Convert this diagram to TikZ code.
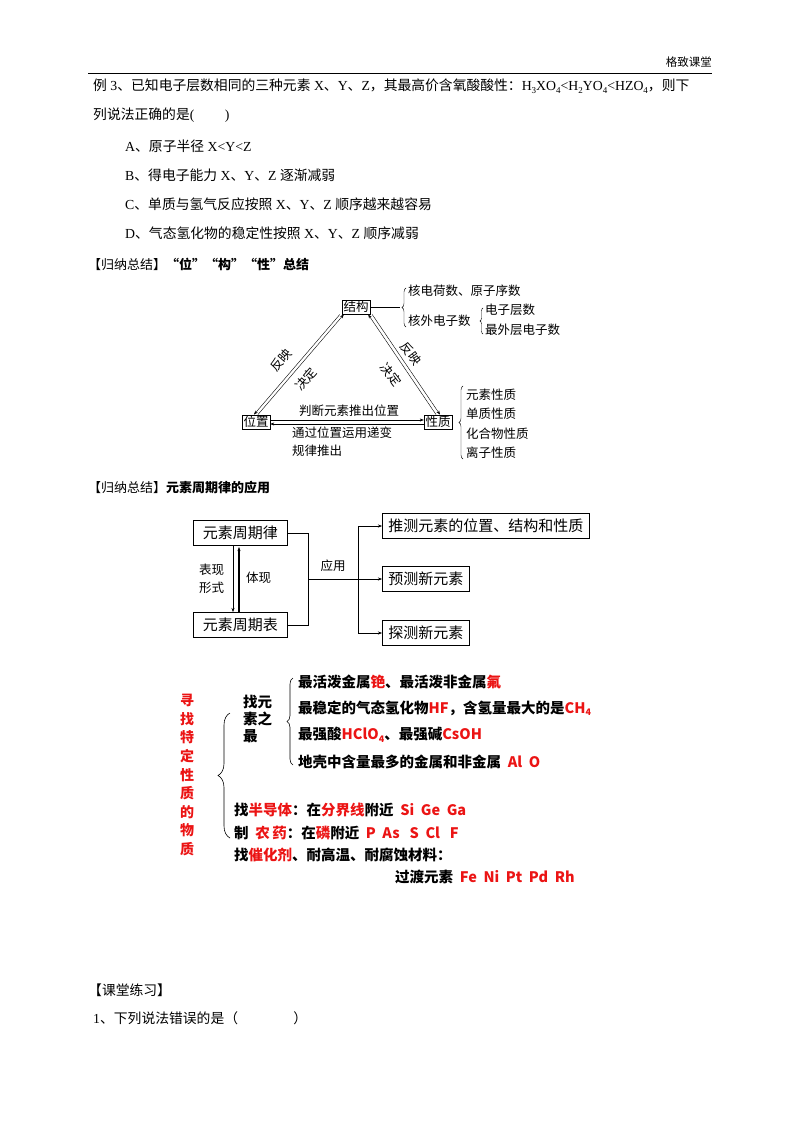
\documentclass[tikz,border=0pt]{standalone}
\usepackage{fontspec}
\setmainfont{Liberation Serif}
\newfontfamily\cjk{Noto Sans CJK SC}
\usetikzlibrary{decorations.pathreplacing,arrows.meta}
\newcommand\lat[1]{{\rmfamily #1}}
\newcommand\sbs[1]{\raisebox{-2.5pt}{\fontsize{9}{9}\selectfont #1}}
\begin{document}
\begin{tikzpicture}[x=1pt,y=-1pt,
  every node/.style={font=\cjk\fontsize{13.8}{16}\selectfont,inner sep=0pt},
  txt/.style={anchor=west},
  sm/.style={font=\cjk\fontsize{12.5}{15}\selectfont},
  bx/.style={draw,inner sep=1.5pt,font=\cjk\fontsize{12.5}{15}\selectfont},
  pbx/.style={draw,line width=0.8pt,inner xsep=6pt,inner ysep=3pt,font=\cjk\fontsize{15}{17}\selectfont,anchor=west},
  bf/.style={anchor=west,font=\cjk\bfseries\fontsize{14.5}{17}\selectfont},
  ar/.style={-{Stealth[length=4pt,width=3pt]}}]
\useasboundingbox (0,0) rectangle (800,1132);
\definecolor{rd}{RGB}{235,20,20}
% header
\node[anchor=east,font=\cjk\fontsize{11.5}{13}\selectfont] (hd) at (712,62) {格致课堂};
\coordinate (hl) at (88,73); \coordinate (hr) at (712,73);
\draw[line width=0.5pt] (hl) -- (hr);
\node[txt] (l1) at (93,86) {例\lat{ 3}、已知电子层数相同的三种元素\lat{ X}、\lat{Y}、\lat{Z}，其最高价含氧酸酸性：\lat{H\sbs{3}XO\sbs{4}<H\sbs{2}YO\sbs{4}<HZO\sbs{4}}，则下};
\node[txt] (l2) at (93,115) {列说法正确的是\lat{(\hspace{2.2em})}};
\node[txt] (oA) at (125,146) {\lat{A}、原子半径\lat{ X<Y<Z}};
\node[txt] (oB) at (125,175) {\lat{B}、得电子能力\lat{ X}、\lat{Y}、\lat{Z }逐渐减弱};
\node[txt] (oC) at (125,204) {\lat{C}、单质与氢气反应按照\lat{ X}、\lat{Y}、\lat{Z }顺序越来越容易};
\node[txt] (oD) at (125,233) {\lat{D}、气态氢化物的稳定性按照\lat{ X}、\lat{Y}、\lat{Z }顺序减弱};
\node[txt,font=\cjk\fontsize{13}{15}\selectfont] (s1) at (88,264) {【归纳总结】{\bfseries “位”“构”“性”总结}};
% triangle
\node[bx] (jg) at (356,307) {结构};
\node[bx] (wz) at (256,422) {位置};
\node[bx] (xz) at (438,422) {性质};
\draw[ar] ([xshift=-2pt]jg.south west) -- ([xshift=-2pt]wz.north);
\draw[ar] ([xshift=2pt]wz.north) -- ([xshift=2pt]jg.south west);
\draw[ar] ([xshift=2pt]jg.south east) -- ([xshift=2pt]xz.north);
\draw[ar] ([xshift=-2pt]xz.north) -- ([xshift=-2pt]jg.south east);
\draw[ar] ([yshift=-2pt]xz.west) -- ([yshift=-2pt]wz.east);
\draw[ar] ([yshift=2pt]wz.east) -- ([yshift=2pt]xz.west);
\node[sm,rotate=49] (fy1) at (281,360) {反映};
\node[sm,rotate=49] (jd1) at (306,379) {决定};
\node[sm,rotate=-53] (fy2) at (411,354) {反映};
\node[sm,rotate=-53] (jd2) at (391,375) {决定};
\node[sm] (pd) at (349,411) {判断元素推出位置};
\node[sm,anchor=west] (tg) at (292,433) {通过位置运用递变};
\node[sm,anchor=west] (gl) at (292,451) {规律推出};
\coordinate (b1) at (400,307);
\draw (jg.east) -- (b1);
\draw[decorate,decoration={brace,amplitude=4pt}] (406,327) -- (406,288);
\node[sm,anchor=west] (t1) at (408,291) {核电荷数、原子序数};
\node[sm,anchor=west] (t2) at (408,321) {核外电子数};
\draw[decorate,decoration={brace,amplitude=3pt}] (483,334) -- (483,308);
\node[sm,anchor=west] (t3) at (485,310) {电子层数};
\node[sm,anchor=west] (t4) at (485,330) {最外层电子数};
\draw[decorate,decoration={brace,amplitude=4pt}] (463,459) -- (463,386);
\node[sm,anchor=west] (p1) at (466,395) {元素性质};
\node[sm,anchor=west] (p2) at (466,414) {单质性质};
\node[sm,anchor=west] (p3) at (466,434) {化合物性质};
\node[sm,anchor=west] (p4) at (466,453) {离子性质};
\node[txt,font=\cjk\fontsize{13}{15}\selectfont] (s2) at (88,488) {【归纳总结】{\bfseries 元素周期律的应用}};
% periodic
\node[pbx,minimum width=94pt,minimum height=25pt] (lv) at (193,533) {元素周期律};
\node[pbx,minimum width=94pt,minimum height=25pt] (bi) at (193,625) {元素周期表};
\draw[ar] (233,546) -- (233,612);
\draw[ar,line width=1.2pt] (239,612) -- (239,547);
\node[sm,anchor=west] (bx1) at (199,570) {表现};
\node[sm,anchor=west] (bx2) at (199,588) {形式};
\node[sm,anchor=west] (tx) at (246,578) {体现};
\coordinate (m1) at (308,533); \coordinate (m2) at (308,625);
\draw (lv.east) -- (m1) -- (m2) -- (bi.east);
\node[sm] (yy) at (333,566) {应用};
\node[pbx,minimum height=25pt] (r1) at (382,526) {推测元素的位置、结构和性质};
\node[pbx,minimum height=25pt] (r2) at (382,579) {预测新元素};
\node[pbx,minimum height=25pt] (r3) at (382,633) {探测新元素};
\coordinate (c1) at (358,526); \coordinate (c3) at (358,633); \coordinate (cm) at (308,579);
\draw[ar] (cm) -- (r2.west);
\draw[ar] (c1) -- (r1.west);
\draw[ar] (c1) -- (c3) -- (r3.west);
% section 3
\node[font=\cjk\bfseries\fontsize{14}{18.6}\selectfont,text=rd,align=center] (xz3) at (187,775) {寻\\找\\特\\定\\性\\质\\的\\物\\质};
\draw[decorate,decoration={brace,amplitude=12pt},line width=0.6pt] (230,838) -- (230,713);
\node[font=\cjk\bfseries\fontsize{14.5}{17}\selectfont,align=left,anchor=west] (zy) at (243,719) {找元\\素之\\最};
\draw[decorate,decoration={brace,amplitude=6pt},line width=0.6pt] (293,765) -- (293,678);
\node[bf] (q1) at (298,682) {最活泼金属\textcolor{rd}{铯}、最活泼非金属\textcolor{rd}{氟}};
\node[bf] (q2) at (298,708) {最稳定的气态氢化物\textcolor{rd}{HF}，含氢量最大的是\textcolor{rd}{CH\sbs{4}}};
\node[bf] (q3) at (298,735) {最强酸\textcolor{rd}{HClO\sbs{4}}、最强碱\textcolor{rd}{CsOH}};
\node[bf] (q4) at (298,762) {地壳中含量最多的金属和非金属\ \ \textcolor{rd}{Al\ \ O}};
\node[bf] (q5) at (234,810) {找\textcolor{rd}{半导体}：在\textcolor{rd}{分界线}附近\ \ \textcolor{rd}{Si\ \ Ge\ \ Ga}};
\node[bf] (q6) at (234,833) {制\ \ \textcolor{rd}{农\,药}：在\textcolor{rd}{磷}附近\ \ \textcolor{rd}{P\ \ As\ \ \ S\ \ Cl\ \ \ F}};
\node[bf] (q7) at (234,855) {找\textcolor{rd}{催化剂}、耐高温、耐腐蚀材料：};
\node[bf] (q8) at (395,877) {过渡元素\ \ \textcolor{rd}{Fe\ \ Ni\ \ Pt\ \ Pd\ \ Rh}};
% bottom
\node[txt] (s4) at (88,990) {【课堂练习】};
\node[txt] (e1) at (93,1018) {\lat{1}、下列说法错误的是（\hspace{4em}）};
\end{tikzpicture}
\end{document}
